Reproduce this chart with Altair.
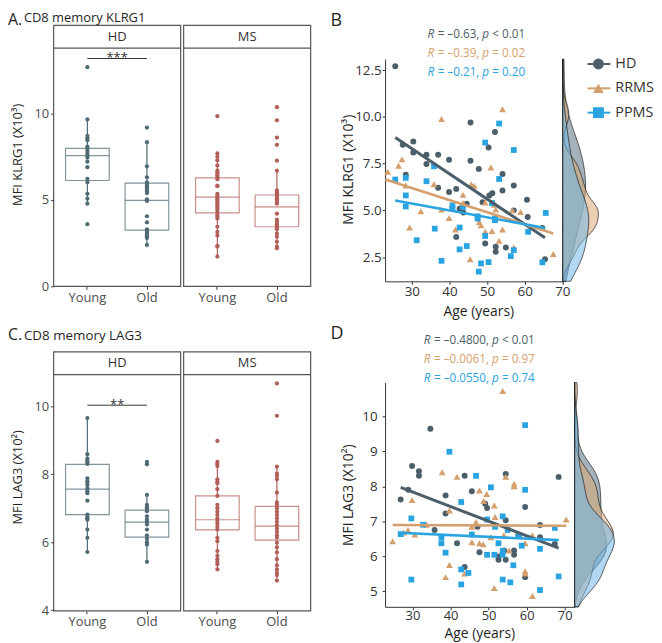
import altair as alt
import pandas as pd

FONT = "Open Sans"
INK = "#1f1f1f"
AX = "#333333"
FRAME = "#555555"

CATS = ["Young", "Old"]
HD_BOX = "#4e6a74"
MS_BOX = "#b25f5a"

GROUPS = ["HD", "RRMS", "PPMS"]
G_COLORS = ["#4b5e69", "#d49f6c", "#2aa4e0"]
G_SHAPES = ["circle", "triangle-up", "square"]
G_SIZES = [36, 48, 34]
D_FILLS = ["#5a7484", "#d9a774", "#72b8e8"]
LINE_W = [3.0, 2.6, 2.6]

# ---------------- Panel A : CD8 memory KLRG1 (x10^3) ----------------
A_HD_YOUNG = [12.7, 9.67, 8.72, 8.58, 8.47, 8.1, 7.99, 7.85, 7.7, 7.57, 7.45, 7.22,
              6.9, 6.23, 6.03, 5.36, 5.08, 4.79, 3.6]
A_HD_OLD = [9.2, 8.35, 6.95, 6.32, 6.03, 5.9, 5.8, 5.7, 5.6, 5.5, 5.4, 5.04, 4.95,
            4.06, 3.7, 3.3, 3.2, 3.1, 3.0, 2.9, 2.8, 2.4]
A_MS_YOUNG = [9.86, 7.7, 7.5, 7.3, 7.0, 6.7, 6.6, 6.5, 6.4, 6.3, 6.2, 5.84, 5.8, 5.36,
              5.25, 5.15, 5.05, 4.95, 4.85, 4.75, 4.65, 4.55, 4.45, 4.3, 4.15, 4.05,
              3.93, 3.45, 3.15, 2.95, 2.34, 2.3, 1.72]
A_MS_OLD = [10.38, 9.62, 8.62, 8.2, 7.28, 6.7, 5.56, 5.45, 5.35, 5.25, 5.15, 5.05,
            4.95, 4.85, 4.79, 4.21, 3.87, 3.75, 3.6, 3.5, 3.4, 3.3, 3.06, 2.87, 2.58,
            2.3, 2.2]
# box statistics, order: HD-Young, HD-Old, MS-Young, MS-Old
A_Q1 = [6.13, 3.26, 4.25, 3.45]
A_MED = [7.57, 4.98, 5.17, 4.60]
A_Q3 = [7.99, 5.98, 6.28, 5.29]
A_LO = [4.79, 2.40, 1.72, 2.20]
A_HI = [9.67, 8.35, 7.70, 6.70]
A_SIG = ["***", 13.2]

# ---------------- Panel C : CD8 memory LAG3 (x10^2) ----------------
C_HD_YOUNG = [9.65, 8.59, 8.46, 8.4, 8.35, 8.3, 7.88, 7.8, 7.75, 7.68, 7.58, 7.5, 7.44,
              7.22, 6.81, 6.75, 6.7, 6.66, 6.37, 6.13, 5.71]
C_HD_OLD = [8.36, 8.29, 7.39, 7.1, 7.05, 7.0, 6.91, 6.76, 6.66, 6.6, 6.52, 6.37, 6.2,
            6.1, 6.0, 5.93, 5.42]
C_MS_YOUNG = [8.98, 8.36, 8.3, 8.24, 7.85, 7.78, 7.73, 7.56, 7.36, 7.1, 7.0, 6.9, 6.8,
              6.7, 6.62, 6.55, 6.45, 6.37, 6.13, 6.03, 5.74, 5.6, 5.5, 5.42, 5.35, 5.2]
C_MS_OLD = [10.67, 9.72, 8.22, 8.02, 7.95, 7.85, 7.46, 7.17, 7.1, 7.0, 6.9, 6.8, 6.7,
            6.6, 6.5, 6.4, 6.3, 6.2, 6.13, 5.98, 5.85, 5.7, 5.5, 5.32, 5.2, 5.1, 5.03, 4.87]
C_Q1 = [6.81, 6.15, 6.36, 6.06]
C_MED = [7.56, 6.59, 6.66, 6.47]
C_Q3 = [8.29, 6.94, 7.36, 7.05]
C_LO = [5.71, 5.42, 5.20, 4.87]
C_HI = [9.65, 7.39, 8.36, 8.22]
C_SIG = ["**", 10.03]

# ---------------- Panel B : KLRG1 vs age ----------------
B_HD_AGE = [25.6, 27.6, 30.4, 30.4, 28.4, 33.9, 33.9, 37.0, 37.0, 39.9, 39.9, 41.8, 41.8,
            42.7, 43.7, 44.6, 45.6, 45.6, 47.8, 48.8, 49.5, 50.4, 50.6, 51.4, 52.1, 52.3,
            52.3, 54.1, 54.1, 55.0, 57.1, 57.1, 60.6, 60.8, 64.7, 65.4]
B_HD_VAL = [12.71, 8.51, 8.69, 8.10, 6.91, 7.98, 7.48, 7.98, 6.21, 7.71, 5.98, 6.15, 3.58,
            5.09, 4.88, 5.35, 9.70, 7.66, 7.22, 5.44, 3.23, 8.37, 5.80, 5.92, 9.20, 3.05,
            2.78, 6.95, 6.06, 3.01, 6.33, 5.00, 5.57, 4.65, 4.06, 2.38]
B_RR_AGE = [23.6, 26.5, 27.4, 28.4, 29.4, 32.4, 35.9, 37.9, 37.9, 39.9, 41.6, 43.6, 43.6,
            45.5, 45.8, 46.6, 47.9, 48.4, 49.5, 49.5, 51.0, 51.3, 51.9, 52.3, 53.2, 54.1,
            54.1, 56.7, 57.1, 58.9, 67.6]
B_RR_VAL = [7.06, 7.39, 7.73, 6.33, 4.08, 4.95, 6.40, 9.89, 5.04, 4.59, 3.97, 5.83, 5.39,
            2.38, 6.40, 6.31, 4.38, 4.20, 5.42, 3.85, 7.30, 3.90, 5.30, 5.04, 3.37, 10.41,
            3.97, 5.00, 3.01, 4.91, 2.66]
B_PP_AGE = [25.6, 28.4, 28.4, 28.4, 31.3, 33.9, 35.9, 36.1, 37.9, 40.8, 40.8, 42.7, 42.7,
            43.6, 44.6, 47.5, 47.5, 47.8, 48.4, 49.5, 49.5, 50.4, 51.3, 52.1, 52.1, 53.2,
            53.2, 56.3, 57.1, 57.1, 60.9, 64.7, 65.6]
B_PP_VAL = [6.65, 6.74, 5.80, 5.21, 3.40, 6.56, 7.36, 4.02, 2.30, 5.27, 5.09, 4.08, 2.91,
            5.18, 3.09, 4.68, 4.56, 1.72, 2.16, 8.63, 3.63, 2.23, 5.39, 4.56, 4.47, 9.65,
            6.68, 2.55, 8.23, 2.87, 3.85, 2.22, 4.86]
# fitted lines: [age start, age end, value start, value end]
B_FIT_HD = [25.6, 65.4, 8.90, 3.53]
B_FIT_RR = [23.0, 67.6, 6.65, 3.76]
B_FIT_PP = [25.6, 65.4, 5.53, 4.06]
B_R = ["–0.63", "–0.39", "–0.21"]
B_P = ["< 0.01", "= 0.02", "= 0.20"]

# ---------------- Panel D : LAG3 vs age ----------------
D_HD_AGE = [26.9, 28.9, 29.9, 31.7, 31.7, 34.7, 35.8, 38.7, 38.7, 41.7, 43.7, 43.7, 45.6,
            47.6, 49.1, 49.6, 47.1, 54.1, 52.6, 52.6, 54.5, 54.5, 54.5, 56.7, 56.7, 57.8,
            59.6, 59.6, 63.5, 63.5, 67.4, 68.4]
D_HD_VAL = [7.62, 7.90, 8.58, 8.43, 8.30, 9.65, 6.75, 7.74, 7.22, 6.37, 8.30, 5.69, 7.86,
            6.11, 7.50, 7.38, 6.84, 6.16, 5.99, 5.90, 5.90, 7.03, 8.35, 6.16, 6.04, 6.60,
            7.41, 5.40, 6.89, 6.54, 6.35, 8.27]
D_RR_AGE = [24.8, 27.7, 28.8, 29.9, 30.6, 33.7, 37.8, 38.7, 39.7, 39.7, 41.7, 43.7, 45.6,
            45.6, 46.7, 47.6, 47.6, 48.6, 48.7, 49.5, 50.6, 51.5, 51.5, 51.7, 53.7, 54.0,
            54.5, 55.4, 56.7, 56.7, 59.6, 59.6, 59.6, 61.5, 61.5, 70.4]
D_RR_VAL = [6.43, 6.68, 6.75, 7.61, 6.62, 6.90, 8.40, 5.40, 7.31, 5.75, 8.27, 5.50, 6.40,
            6.84, 6.98, 7.88, 6.37, 6.34, 7.58, 7.78, 6.54, 7.45, 5.09, 7.12, 10.73, 6.60,
            8.27, 6.16, 8.07, 8.00, 6.37, 5.57, 5.50, 4.86, 6.60, 7.05]
D_PP_AGE = [26.9, 29.7, 29.7, 32.8, 37.6, 37.6, 38.7, 39.7, 42.8, 42.8, 42.8, 44.7, 45.6,
            46.7, 49.6, 49.6, 50.6, 51.5, 51.7, 52.6, 53.7, 53.7, 53.7, 53.7, 55.0, 55.7,
            56.5, 58.0, 58.7, 59.6, 59.6, 63.5, 63.5, 67.4, 68.4]
D_PP_VAL = [6.63, 7.08, 5.33, 6.90, 6.54, 6.37, 6.10, 8.99, 7.55, 5.62, 5.19, 5.52, 6.62,
            8.30, 7.05, 6.04, 7.97, 6.04, 6.84, 6.37, 7.14, 6.15, 5.33, 6.04, 6.75, 5.25,
            5.74, 6.60, 6.30, 9.75, 7.90, 6.21, 5.03, 6.81, 5.42]
D_FIT_HD = [26.9, 68.4, 7.97, 6.23]
D_FIT_RR = [24.8, 70.4, 6.89, 6.87]
D_FIT_PP = [26.5, 68.4, 6.67, 6.46]
D_R = ["–0.4800", "–0.0061", "–0.0550"]
D_P = ["< 0.01", "= 0.97", "= 0.74"]


# ---------------- helpers ----------------
def one():
    return pd.DataFrame({"k": [0]})


def label(txt, x, y, size, color=INK, align="left", baseline="alphabetic", style="normal"):
    return alt.Chart(one()).mark_text(
        text=txt, align=align, baseline=baseline, fontSize=size, color=color,
        fontStyle=style, font=FONT
    ).encode(x=alt.value(x), y=alt.value(y))


ADV = {" ": 532, ".": 545, ",": 500, "=": 1171, "<": 1171, "–": 1024}


def tw(s, fs):
    return sum(ADV.get(ch, 1171) for ch in s) * fs / 2048.0


def r_line(rv, pv, color, cx, y, fs=11.8):
    sp = tw(" ", fs)
    wR = 1233 * fs / 2048.0
    wP = 1206 * fs / 2048.0
    s2 = "= " + rv + ","
    s4 = pv
    total = wR + sp + tw(s2, fs) + sp + wP + sp + tw(s4, fs)
    x0 = cx - total / 2
    x2 = x0 + wR + sp
    x3 = x2 + tw(s2, fs) + sp
    x4 = x3 + wP + sp
    return [
        label("R", x0, y, fs, color, baseline="middle", style="italic"),
        label(s2, x2, y, fs, color, baseline="middle"),
        label("p", x3, y, fs, color, baseline="middle", style="italic"),
        label(s4, x4, y, fs, color, baseline="middle"),
    ]


def box_panel(facet, young, old, q1, med, q3, lo, hi, color, H, strip_top, plot_top,
              ydomain, yticks=None, ytitle=None, ytitle_y=None, heading=None, sig=None):
    W = 128
    ys = alt.Scale(domain=ydomain, range=[H, plot_top], nice=False, zero=False)
    xs = alt.Scale(domain=CATS, paddingInner=0.267, paddingOuter=0.2)
    xaxis = alt.Axis(title=None, labelAngle=0, domain=False, tickSize=3, tickColor=AX,
                     labelFontSize=13, labelColor="#4d4d4d", labelPadding=2, grid=False)
    if yticks is None:
        yaxis = None
    else:
        yaxis = alt.Axis(values=yticks, format="d", title=ytitle, titleX=-36, titleY=ytitle_y,
                         titleAngle=270, titleAlign="center", titleBaseline="middle",
                         titleFontSize=13, titleFontWeight="normal", titleColor=INK,
                         labelFontSize=13, labelColor="#4d4d4d", labelPadding=2,
                         tickSize=3, tickColor=AX, domain=False, grid=False)
    X = alt.X("cat:N", scale=xs, sort=CATS, axis=xaxis)

    def Y(f):
        return alt.Y(f + ":Q", scale=ys, axis=yaxis)

    dots = pd.DataFrame({"cat": ["Young"] * len(young) + ["Old"] * len(old),
                         "val": list(young) + list(old)})
    stats = pd.DataFrame({"cat": CATS, "q1": q1, "med": med, "q3": q3, "lo": lo, "hi": hi})

    layers = [
        alt.Chart(stats).mark_rule(color=color, strokeWidth=1.2).encode(x=X, y=Y("lo"), y2="q1:Q"),
        alt.Chart(stats).mark_rule(color=color, strokeWidth=1.2).encode(x=X, y=Y("q3"), y2="hi:Q"),
        alt.Chart(stats).mark_bar(fill="white", stroke=color, strokeOpacity=0.7,
                                  strokeWidth=1.2).encode(x=X, y=Y("q1"), y2="q3:Q"),
        alt.Chart(stats).mark_tick(color=color, opacity=0.7, thickness=1.2, size=44).encode(
            x=X, y=Y("med")),
        alt.Chart(dots).mark_circle(size=18, color=color, opacity=1).encode(x=X, y=Y("val")),
    ]
    if sig is not None:
        sdf = pd.DataFrame({"c1": ["Young"], "c2": ["Old"], "y": [sig[1]], "t": [sig[0]]})
        layers.append(alt.Chart(sdf).mark_rule(color=AX, strokeWidth=1).encode(
            x=alt.X("c1:N", scale=xs, sort=CATS, axis=xaxis, bandPosition=0.5),
            x2=alt.X2("c2:N", bandPosition=0.5), y=Y("y")))
        layers.append(alt.Chart(sdf).mark_text(baseline="alphabetic", align="center", dy=4,
                                               fontSize=13, color=AX, font=FONT).encode(
            x=alt.value(W / 2), y=Y("y"), text="t:N"))
    frame = alt.Chart(one()).mark_rect(fillOpacity=0, stroke=FRAME, strokeWidth=1.2).encode(
        x=alt.value(0), x2=alt.value(W), y=alt.value(strip_top), y2=alt.value(H))
    sline = alt.Chart(one()).mark_rule(color=FRAME, strokeWidth=1.2).encode(
        x=alt.value(0), x2=alt.value(W), y=alt.value(plot_top))
    stext = label(facet, W / 2, (strip_top + plot_top) / 2, 13, color=AX, align="center",
                  baseline="middle")
    layers += [sline, stext, frame]
    if heading is not None:
        letter, sub, by, bl = heading
        if bl == "top":
            layers.append(label(letter, -46, by, 16, baseline="top"))
            layers.append(label(sub, -30, by - 0.3, 13, baseline="top"))
        else:
            layers.append(label(letter, -46, by, 16))
            layers.append(label(sub, -30, by, 13.5))
    return alt.layer(*layers).properties(width=W, height=H)


def scatter_panel(series, fits, Wsc, Wd, H, plot_top, xdomain, ydomain, yticks, yfmt, ytitle,
                  ytitle_y, xtitle_x, xtitle_y, ylab_pad, rvals, pvals, r_cx, r_ys,
                  letter, letter_y, letter_bl, bw, xlab_size, legend=False):
    xs = alt.Scale(domain=xdomain, range=[0, Wsc], nice=False, zero=False)
    ys = alt.Scale(domain=ydomain, range=[H, plot_top], nice=False, zero=False)
    xaxis = alt.Axis(values=[30, 40, 50, 60, 70], title="Age (years)", titleX=xtitle_x,
                     titleY=xtitle_y, titleAlign="center", titleBaseline="bottom",
                     titleFontSize=14, titleFontWeight="normal", titleColor=INK,
                     labelFontSize=xlab_size, labelColor=AX, labelPadding=0, labelFlush=False,
                     tickSize=3, tickColor=AX, domainColor=AX, grid=False)
    yaxis = alt.Axis(values=yticks, format=yfmt, title=ytitle, titleX=-37, titleY=ytitle_y,
                     titleAngle=270, titleAlign="center", titleBaseline="middle",
                     titleFontSize=14, titleFontWeight="normal", titleColor=INK,
                     labelFontSize=13.5, labelColor=AX, labelPadding=ylab_pad,
                     tickSize=3, tickColor=AX, domainColor=AX, grid=False)
    X = alt.X("age:Q", scale=xs, axis=xaxis)
    Yq = alt.Y("val:Q", scale=ys, axis=yaxis)
    sc_layers = []
    for g, col, shp, sz in zip(GROUPS, G_COLORS, G_SHAPES, G_SIZES):
        ages, vals = series[g]
        df = pd.DataFrame({"age": ages, "val": vals})
        sc_layers.append(alt.Chart(df).mark_point(filled=True, shape=shp, size=sz, color=col,
                                                  opacity=1).encode(x=X, y=Yq))
    for g, col, lw in zip(GROUPS, G_COLORS, LINE_W):
        a0, a1, v0, v1 = fits[g]
        df = pd.DataFrame({"age": [a0, a1], "val": [v0, v1]})
        sc_layers.append(alt.Chart(df).mark_line(color=col, strokeWidth=lw).encode(x=X, y=Yq))
    scatter = alt.layer(*sc_layers)

    # marginal densities, drawn in the strip just right of the scatter
    dxs = alt.Scale(zero=True, nice=False, range=[Wsc, Wsc + Wd])
    d_layers = []
    for g, fill in zip(GROUPS, D_FILLS):
        ages, vals = series[g]
        df = pd.DataFrame({"val": vals})
        d_layers.append(
            alt.Chart(df).transform_density("val", as_=["val", "density"], extent=list(ydomain),
                                            bandwidth=bw[g], steps=150)
            .mark_area(orient="horizontal", fill=fill, fillOpacity=0.55, stroke="#1a1a1a",
                       strokeWidth=0.7)
            .encode(y=alt.Y("val:Q", scale=ys, axis=None),
                    x=alt.X("density:Q", scale=dxs, axis=None)))
    dens = alt.layer(*d_layers)

    parts = [scatter, dens]
    if legend:
        ldf = pd.DataFrame({"group": GROUPS})
        ly = alt.Y("group:N", sort=GROUPS,
                   scale=alt.Scale(type="point", domain=GROUPS, range=[54, 103], padding=0),
                   axis=None)
        col = alt.Color("group:N", scale=alt.Scale(domain=GROUPS, range=G_COLORS), legend=None)
        shp = alt.Shape("group:N", scale=alt.Scale(domain=GROUPS, range=G_SHAPES), legend=None)
        leg = alt.layer(
            alt.Chart(ldf).mark_rule(strokeWidth=2).encode(
                x=alt.value(Wsc + 25), x2=alt.value(Wsc + 48), y=ly, color=col),
            alt.Chart(ldf).mark_point(filled=True, size=120, opacity=1).encode(
                x=alt.value(Wsc + 36), y=ly, color=col, shape=shp),
            alt.Chart(ldf).mark_text(align="left", baseline="middle", fontSize=14.5,
                                     color=AX, font=FONT).encode(
                x=alt.value(Wsc + 53), y=ly, text="group:N"),
        )
        parts.append(leg)
    texts = []
    for rv, pv, c, yy in zip(rvals, pvals, G_COLORS, r_ys):
        texts += r_line(rv, pv, c, r_cx, yy)
    texts.append(label(letter, -55, letter_y, 18, baseline=letter_bl))
    parts += texts
    return (alt.layer(*parts).resolve_scale(x="independent", y="independent")
            .properties(width=Wsc + Wd, height=H))


def spacer(w, h):
    # an invisible placeholder column between the box panels and the scatter panels
    return alt.Chart(one()).mark_point(opacity=0, size=4).encode(
        x=alt.value(w / 2), y=alt.value(h / 2)).properties(width=w, height=h)


B_SERIES = {"HD": (B_HD_AGE, B_HD_VAL), "RRMS": (B_RR_AGE, B_RR_VAL), "PPMS": (B_PP_AGE, B_PP_VAL)}
D_SERIES = {"HD": (D_HD_AGE, D_HD_VAL), "RRMS": (D_RR_AGE, D_RR_VAL), "PPMS": (D_PP_AGE, D_PP_VAL)}
B_FITS = {"HD": B_FIT_HD, "RRMS": B_FIT_RR, "PPMS": B_FIT_PP}
D_FITS = {"HD": D_FIT_HD, "RRMS": D_FIT_RR, "PPMS": D_FIT_PP}
B_BW = {"HD": 1.3, "RRMS": 0.55, "PPMS": 1.0}
D_BW = {"HD": 0.45, "RRMS": 0.4, "PPMS": 0.4}

A_HD = box_panel("HD", A_HD_YOUNG, A_HD_OLD, A_Q1[:2], A_MED[:2], A_Q3[:2], A_LO[:2], A_HI[:2],
                 HD_BOX, 278, 15, 38, [0, 13.8], yticks=[0, 5, 10],
                 ytitle="MFI KLRG1 (X10³)", ytitle_y=145,
                 heading=("A.", "CD8 memory KLRG1", 2, "top"), sig=A_SIG)
A_MS = box_panel("MS", A_MS_YOUNG, A_MS_OLD, A_Q1[2:], A_MED[2:], A_Q3[2:], A_LO[2:], A_HI[2:],
                 MS_BOX, 278, 15, 38, [0, 13.8])
B_P_ = scatter_panel(B_SERIES, B_FITS, 179, 36, 273, 49, [22.9, 70.1], [1.2, 13.1],
                     [2.5, 5, 7.5, 10, 12.5], ".1f", "MFI KLRG1 (X10³)", 160, 94, 37, 1,
                     B_R, B_P, 92, [23.7, 43, 62], "B", 2, "top", B_BW, 13.5, legend=True)

C_HD = box_panel("HD", C_HD_YOUNG, C_HD_OLD, C_Q1[:2], C_MED[:2], C_Q3[:2], C_LO[:2], C_HI[:2],
                 HD_BOX, 287, 26, 49, [3.98, 10.93], yticks=[4, 6, 8, 10],
                 ytitle="MFI LAG3 (X10²)", ytitle_y=152,
                 heading=("C.", "CD8 memory LAG3", 14, "alphabetic"), sig=C_SIG)
C_MS = box_panel("MS", C_MS_YOUNG, C_MS_OLD, C_Q1[2:], C_MED[2:], C_Q3[2:], C_LO[2:], C_HI[2:],
                 MS_BOX, 287, 26, 49, [3.98, 10.93])
D_P_ = scatter_panel(D_SERIES, D_FITS, 191, 40, 283, 57, [22.8, 72.6], [4.55, 10.97],
                     [5, 6, 7, 8, 9, 10], "d", "MFI LAG3 (X10²)", 170, 95, 33.5, 5,
                     D_R, D_P, 95, [14, 33, 52], "D", 13, "alphabetic", D_BW, 13)

chart = (alt.concat(A_HD, A_MS, spacer(69, 20), B_P_,
                    C_HD, C_MS, spacer(69, 20), D_P_,
                    columns=4, spacing={"row": 40, "column": 3}, bounds="flush", align="each")
         .properties(padding=0)
         .configure(font=FONT)
         .configure_view(stroke=None)
         .configure_axis(labelFont=FONT, titleFont=FONT))

chart.save("out.html", embed_options={"renderer": "svg", "actions": False})
